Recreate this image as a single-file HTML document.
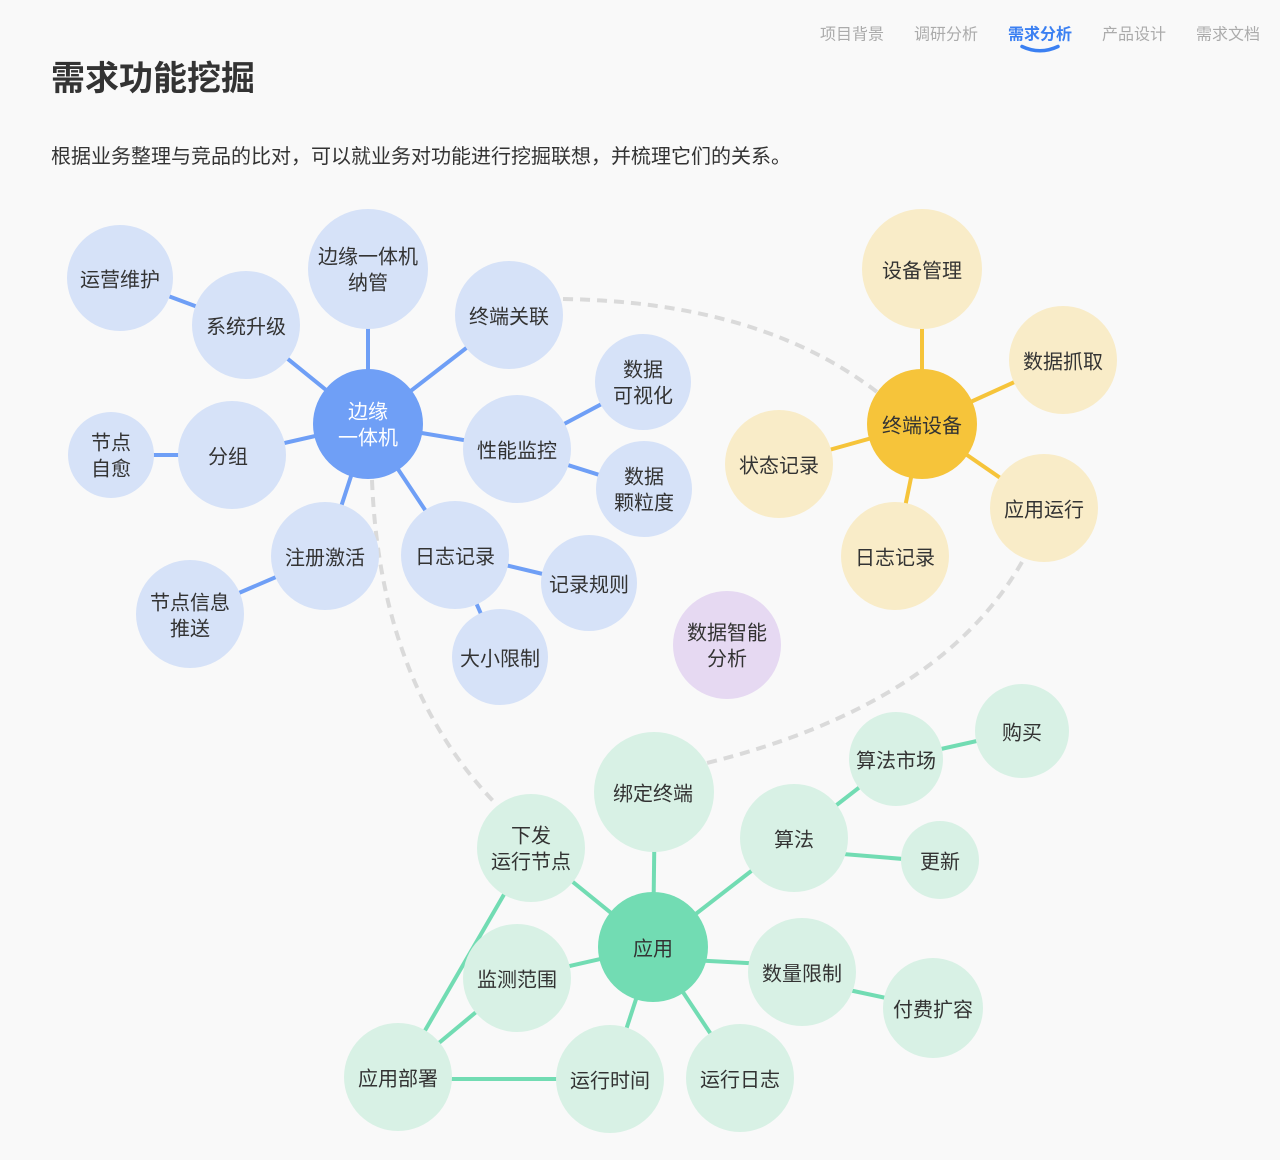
<!DOCTYPE html>
<html>
<head>
<meta charset="utf-8">
<style>
html,body{margin:0;padding:0;background:#f9f9f9;}
svg{display:block;}
text{font-family:"Liberation Sans","Noto Sans CJK SC",sans-serif;}
</style>
</head>
<body>
<svg width="1280" height="1160" viewBox="0 0 1280 1160" xmlns="http://www.w3.org/2000/svg">
<rect x="0" y="0" width="1280" height="1160" fill="#f9f9f9"/>

<!-- nav -->
<g font-size="16" dominant-baseline="central" fill="#ababab" transform="translate(0,2)">
<text x="820" y="33">项目背景</text>
<text x="914" y="33">调研分析</text>
<text x="1008" y="33" fill="#3b80f2" font-weight="bold">需求分析</text>
<text x="1102" y="33">产品设计</text>
<text x="1196" y="33">需求文档</text>
</g>
<path d="M1022 46.5 Q1040 55 1058 46.5" stroke="#3b80f2" stroke-width="3.5" fill="none" stroke-linecap="round"/>

<!-- title -->
<g transform="translate(0,2)">
<text x="51" y="77" font-size="34" font-weight="bold" fill="#333" dominant-baseline="central">需求功能挖掘</text>
<text x="51" y="155" font-size="20" fill="#333" dominant-baseline="central">根据业务整理与竞品的比对，可以就业务对功能进行挖掘联想，并梳理它们的关系。</text>
</g>

<!-- dashed connectors -->
<g stroke="#dadada" stroke-width="4" fill="none" stroke-dasharray="10 7">
<path d="M563 299 Q760 302 877 392"/>
<path d="M372 480 Q380 685 497 805"/>
<path d="M1022 562 Q940 705 707 763"/>
</g>

<!-- blue edges -->
<g stroke="#6f9ff6" stroke-width="4" fill="none">
<line x1="120" y1="278" x2="246" y2="325"/>
<line x1="246" y1="325" x2="368" y2="424"/>
<line x1="368" y1="269" x2="368" y2="424"/>
<line x1="509" y1="315" x2="368" y2="424"/>
<line x1="111" y1="455" x2="232" y2="455"/>
<line x1="232" y1="455" x2="368" y2="424"/>
<line x1="517" y1="449" x2="368" y2="424"/>
<line x1="517" y1="449" x2="643" y2="382"/>
<line x1="517" y1="449" x2="644" y2="489"/>
<line x1="325" y1="556" x2="368" y2="424"/>
<line x1="190" y1="614" x2="325" y2="556"/>
<line x1="455" y1="555" x2="368" y2="424"/>
<line x1="455" y1="553" x2="589" y2="585"/>
<line x1="455" y1="555" x2="500" y2="657"/>
</g>

<!-- yellow edges -->
<g stroke="#f6c43a" stroke-width="4" fill="none">
<line x1="922" y1="269" x2="922" y2="424"/>
<line x1="1063" y1="360" x2="922" y2="424"/>
<line x1="779" y1="464" x2="922" y2="424"/>
<line x1="895" y1="556" x2="922" y2="424"/>
<line x1="1044" y1="508" x2="922" y2="424"/>
</g>

<!-- green edges -->
<g stroke="#72dcb3" stroke-width="4" fill="none">
<line x1="655" y1="792" x2="653" y2="947"/>
<line x1="531" y1="848" x2="653" y2="947"/>
<line x1="517" y1="978" x2="653" y2="947"/>
<line x1="610" y1="1079" x2="653" y2="947"/>
<line x1="740" y1="1078" x2="653" y2="947"/>
<line x1="794" y1="838" x2="653" y2="947"/>
<line x1="653" y1="958" x2="802" y2="966"/>
<line x1="794" y1="838" x2="896" y2="759"/>
<line x1="794" y1="850" x2="940" y2="862"/>
<line x1="896" y1="759" x2="1022" y2="731"/>
<line x1="802" y1="980" x2="933" y2="1008"/>
<line x1="398" y1="1077" x2="531" y2="848"/>
<line x1="398" y1="1077" x2="517" y2="978"/>
<line x1="398" y1="1079" x2="610" y2="1079"/>
</g>

<!-- blue nodes -->
<g fill="#d6e2f8">
<circle cx="120" cy="278" r="53"/>
<circle cx="246" cy="325" r="54"/>
<circle cx="368" cy="269" r="60"/>
<circle cx="509" cy="315" r="54"/>
<circle cx="111" cy="455" r="43"/>
<circle cx="232" cy="455" r="54"/>
<circle cx="517" cy="449" r="54"/>
<circle cx="643" cy="382" r="48"/>
<circle cx="644" cy="489" r="48"/>
<circle cx="325" cy="556" r="54"/>
<circle cx="190" cy="614" r="54"/>
<circle cx="455" cy="555" r="54"/>
<circle cx="589" cy="583" r="48"/>
<circle cx="500" cy="657" r="48"/>
</g>
<circle cx="368" cy="424" r="55" fill="#6f9ff6"/>

<!-- yellow nodes -->
<g fill="#f9ecc8">
<circle cx="922" cy="269" r="60"/>
<circle cx="1063" cy="360" r="54"/>
<circle cx="779" cy="464" r="54"/>
<circle cx="895" cy="556" r="54"/>
<circle cx="1044" cy="508" r="54"/>
</g>
<circle cx="922" cy="424" r="55" fill="#f6c43a"/>

<!-- purple -->
<circle cx="727" cy="645" r="54" fill="#e6d9f2"/>

<!-- green nodes -->
<g fill="#d8f1e5">
<circle cx="654" cy="792" r="60"/>
<circle cx="531" cy="848" r="54"/>
<circle cx="517" cy="978" r="54"/>
<circle cx="398" cy="1077" r="54"/>
<circle cx="610" cy="1079" r="54"/>
<circle cx="740" cy="1078" r="54"/>
<circle cx="794" cy="838" r="54"/>
<circle cx="896" cy="759" r="47"/>
<circle cx="1022" cy="731" r="47"/>
<circle cx="940" cy="860" r="39"/>
<circle cx="802" cy="972" r="54"/>
<circle cx="933" cy="1008" r="50"/>
</g>
<circle cx="653" cy="947" r="55" fill="#72dcb3"/>

<!-- labels -->
<g font-size="20" fill="#333" text-anchor="middle" dominant-baseline="central" transform="translate(0,1.5)">
<text x="120" y="279">运营维护</text>
<text x="246" y="326">系统升级</text>
<text x="368" y="256">边缘一体机</text>
<text x="368" y="282">纳管</text>
<text x="509" y="316">终端关联</text>
<text x="111" y="442">节点</text>
<text x="111" y="468">自愈</text>
<text x="228" y="456">分组</text>
<text x="517" y="450">性能监控</text>
<text x="643" y="369">数据</text>
<text x="643" y="395">可视化</text>
<text x="644" y="476">数据</text>
<text x="644" y="502">颗粒度</text>
<text x="325" y="557">注册激活</text>
<text x="190" y="602">节点信息</text>
<text x="190" y="628">推送</text>
<text x="455" y="556">日志记录</text>
<text x="589" y="584">记录规则</text>
<text x="500" y="658">大小限制</text>
<text x="368" y="411" fill="#ffffff">边缘</text>
<text x="368" y="437" fill="#ffffff">一体机</text>

<text x="922" y="270">设备管理</text>
<text x="1063" y="361">数据抓取</text>
<text x="922" y="425">终端设备</text>
<text x="779" y="465">状态记录</text>
<text x="895" y="557">日志记录</text>
<text x="1044" y="509">应用运行</text>

<text x="727" y="632">数据智能</text>
<text x="727" y="658">分析</text>

<text x="653" y="793">绑定终端</text>
<text x="531" y="835">下发</text>
<text x="531" y="861">运行节点</text>
<text x="653" y="948">应用</text>
<text x="517" y="979">监测范围</text>
<text x="398" y="1078">应用部署</text>
<text x="610" y="1080">运行时间</text>
<text x="740" y="1079">运行日志</text>
<text x="794" y="839">算法</text>
<text x="896" y="760">算法市场</text>
<text x="1022" y="732">购买</text>
<text x="940" y="861">更新</text>
<text x="802" y="973">数量限制</text>
<text x="933" y="1009">付费扩容</text>
</g>
</svg>
</body>
</html>
